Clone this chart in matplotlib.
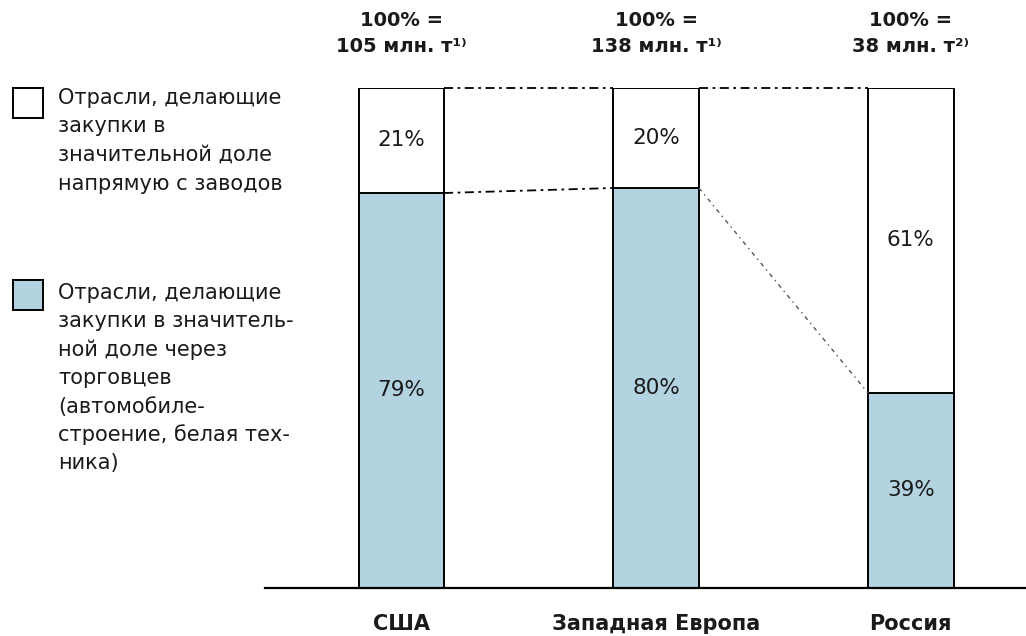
import matplotlib
matplotlib.use('Agg')

import matplotlib.pyplot as plt
from matplotlib.patches import Rectangle

plt.rcParams['font.family'] = ['DejaVu Sans']

# Данные
regions = ['США', 'Западная Европа', 'Россия']
via_traders = [79, 80, 39]
direct = [21, 20, 61]
totals = ['105 млн. т¹⁾', '138 млн. т¹⁾', '38 млн. т²⁾']

legend_direct = ['Отрасли, делающие', 'закупки в', 'значительной доле',
                 'напрямую с заводов']
legend_traders = ['Отрасли, делающие', 'закупки в значитель-', 'ной доле через',
                  'торговцев', '(автомобиле-', 'строение, белая тех-', 'ника)']

blue = '#b2d3df'
ink = '#1a1a1a'
W, H = 1026, 636

fig = plt.figure(figsize=(W / 100, H / 100), dpi=100)
ax = fig.add_axes([265 / W, (H - 588) / H, (W - 265) / W, 500 / H])

x = list(range(len(regions)))
width = 0.336
ax.bar(x, via_traders, width, color=blue, edgecolor='black', linewidth=1.4)
ax.bar(x, direct, width, bottom=via_traders, color='white', edgecolor='black', linewidth=1.4)

ax.set_xlim(-0.535, 2.452)
ax.set_ylim(0, 100)
for s in ['top', 'right', 'left']:
    ax.spines[s].set_visible(False)
ax.spines['bottom'].set_linewidth(1.6)
ax.set_yticks([])
ax.set_xticks([])

# подписи сегментов и столбцов
for i in x:
    ax.text(i, via_traders[i] / 2, f'{via_traders[i]}%', ha='center', va='center',
            fontsize=15.5, color=ink)
    ax.text(i, via_traders[i] + direct[i] / 2, f'{direct[i]}%', ha='center', va='center',
            fontsize=15.5, color=ink)
    ax.text(i, -7.2, regions[i], ha='center', va='center', fontsize=15,
            fontweight='bold', color=ink, clip_on=False)
    ax.text(i, 113.6, '100% =', ha='center', va='center', fontsize=14,
            fontweight='bold', color=ink, clip_on=False)
    ax.text(i, 108.2, totals[i], ha='center', va='center', fontsize=14,
            fontweight='bold', color=ink, clip_on=False)

# соединительные линии
h = width / 2
for i in range(len(regions) - 1):
    ax.plot([i + h, i + 1 - h], [100, 100], color='black', lw=1.3,
            linestyle=(0, (5, 2.5, 1.5, 2.5)), clip_on=False)
ax.plot([0 + h, 1 - h], [via_traders[0], via_traders[1]], color='black', lw=1.3,
        linestyle=(0, (5, 2.5, 1.5, 2.5)))
ax.plot([1 + h, 2 - h], [via_traders[1], via_traders[2]], color='#555555', lw=1.0,
        linestyle=(0, (3, 3, 1, 3)))

# легенда
fig.patches.append(Rectangle((13 / W, 1 - 118 / H), 30 / W, 30 / H, transform=fig.transFigure,
                             facecolor='white', edgecolor='black', lw=1.4))
fig.patches.append(Rectangle((13 / W, 1 - 310 / H), 30 / W, 30 / H, transform=fig.transFigure,
                             facecolor=blue, edgecolor='black', lw=1.4))
for k, line in enumerate(legend_direct):
    fig.text(58 / W, 1 - (98 + 28.5 * k) / H, line, ha='left', va='center',
             fontsize=15, color=ink)
for k, line in enumerate(legend_traders):
    fig.text(58 / W, 1 - (293 + 28.4 * k) / H, line, ha='left', va='center',
             fontsize=15, color=ink)

fig.savefig('out.png', dpi=100)
